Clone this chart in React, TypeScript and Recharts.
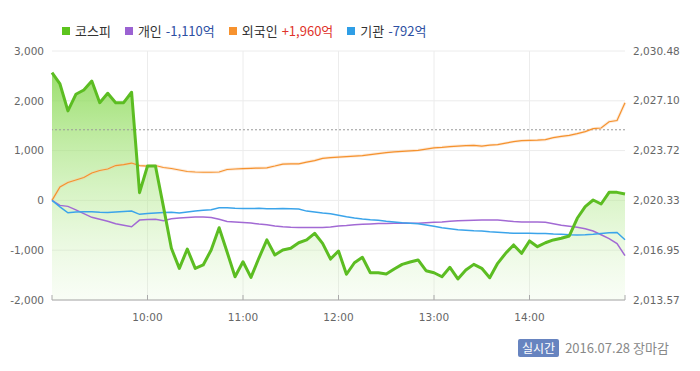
import React from 'react';
import {
    ComposedChart,
    Area,
    Line,
    XAxis,
    YAxis,
    CartesianGrid,
    ReferenceLine
} from 'recharts';

// minutes after 09:00, one point every 5 minutes
const minutes = [
    0, 5, 10, 15, 20, 25, 30, 35, 40, 45, 50, 55,
    60, 65, 70, 75, 80, 85, 90, 95, 100, 105, 110, 115,
    120, 125, 130, 135, 140, 145, 150, 155, 160, 165, 170, 175,
    180, 185, 190, 195, 200, 205, 210, 215, 220, 225, 230, 235,
    240, 245, 250, 255, 260, 265, 270, 275, 280, 285, 290, 295,
    300, 305, 310, 315, 320, 325, 330, 335, 340, 345, 350, 355,
    360
];

// KOSPI index (right axis)
const kospi = [
    2029.01, 2028.24, 2026.41, 2027.54, 2027.83, 2028.44, 2026.97, 2027.61, 2026.97, 2026.97, 2027.68, 2020.86,
    2022.67, 2022.67, 2019.91, 2017.08, 2015.72, 2017.03, 2015.72, 2015.95, 2016.97, 2018.48, 2016.83, 2015.15,
    2016.17, 2015.11, 2016.42, 2017.65, 2016.63, 2016.97, 2017.08, 2017.46, 2017.65, 2018.10, 2017.42, 2016.35,
    2016.90, 2015.32, 2016.10, 2016.47, 2015.42, 2015.42, 2015.34, 2015.68, 2015.99, 2016.15, 2016.29, 2015.56,
    2015.42, 2015.15, 2015.79, 2015.00, 2015.61, 2015.99, 2015.72, 2015.08, 2016.06, 2016.74, 2017.31, 2016.74,
    2017.58, 2017.19, 2017.46, 2017.65, 2017.76, 2017.92, 2019.12, 2019.91, 2020.36, 2020.09, 2020.88, 2020.88,
    2020.77
];

// net buying, 억원 (left axis)
const individual = [
    0, -100, -120, -190, -265, -340, -380, -420, -470, -500, -530, -395,
    -385, -380, -410, -370, -355, -345, -335, -335, -345, -380, -425, -435,
    -445, -455, -475, -490, -515, -530, -540, -546, -546, -546, -545, -535,
    -515, -505, -490, -480, -472, -466, -462, -458, -455, -460, -458, -450,
    -440, -432, -420, -410, -405, -398, -394, -394, -396, -410, -425, -434,
    -434, -434, -440, -470, -500, -520, -540, -570, -614, -690, -766, -866,
    -1110
];

const foreign = [
    0, 270, 360, 410, 460, 550, 600, 630, 700, 720, 750, 700,
    690, 700, 660, 640, 610, 580, 570, 565, 565, 570, 620, 630,
    640, 645, 650, 655, 690, 730, 734, 734, 770, 800, 845, 860,
    870, 880, 890, 900, 920, 940, 960, 975, 985, 995, 1005, 1030,
    1055, 1065, 1080, 1090, 1100, 1105, 1090, 1110, 1120, 1150, 1180, 1200,
    1205, 1210, 1220, 1260, 1285, 1305, 1340, 1380, 1440, 1454, 1580, 1605,
    1960
];

const institution = [
    0, -130, -250, -235, -230, -230, -240, -245, -235, -225, -215, -280,
    -265, -255, -245, -240, -255, -235, -215, -200, -186, -150, -150, -160,
    -165, -165, -160, -166, -170, -165, -166, -175, -215, -235, -255, -270,
    -300, -330, -355, -375, -390, -400, -420, -435, -450, -460, -470, -495,
    -520, -550, -570, -590, -600, -610, -615, -630, -640, -650, -660, -660,
    -660, -665, -665, -675, -680, -690, -695, -690, -680, -665, -650, -645,
    -790
];

const hourTicks = [0, 60, 120, 180, 240, 300, 360];
const hourLabels = ['', '10:00', '11:00', '12:00', '13:00', '14:00', ''];
const flowTicks = [-2000, -1000, 0, 1000, 2000, 3000];
const kospiTicks = [2013.57, 2016.95, 2020.33, 2023.72, 2027.10, 2030.48];
const prevClose = 2025.13;

const legendLabels = ['코스피', '개인', '외국인', '기관'];
const legendValues = ['', '-1,110억', '+1,960억', '-792억'];
const legendColors = ['#5cc41d', '#9b62d2', '#f7922e', '#2f9ee6'];
const legendValueColors = ['', '#2d4fa3', '#e0342b', '#2d4fa3'];

const data = minutes.map((m, i) => ({
    m,
    kospi: kospi[i],
    individual: individual[i],
    foreign: foreign[i],
    institution: institution[i]
}));

const tickFont = { fill: '#666', fontSize: 10.5, fontFamily: 'DejaVu Sans' };

const TimeTick = (props: any) => {
    const { x, y, payload } = props;
    const idx = hourTicks.indexOf(payload.value);
    return (
        <g>
            {/* small tick mark pointing up into the plot */}
            <line x1={x} x2={x} y1={y - 8} y2={y - 13} stroke="#aaa" />
            <text x={x} y={y} dy={13} textAnchor="middle" {...tickFont}>
                {hourLabels[idx]}
            </text>
        </g>
    );
};

const App = () => {
    return (
        <div style={{ position: 'absolute', left: 0, top: 0, width: 700, height: 371, background: '#fff' }}>
            <div
                style={{
                    position: 'absolute',
                    left: 62,
                    top: 21,
                    display: 'flex',
                    gap: 14,
                    fontFamily: '"Noto Sans CJK KR", sans-serif',
                    fontSize: 13,
                    color: '#333',
                    whiteSpace: 'nowrap'
                }}
            >
                {legendLabels.map((label, i) => (
                    <div key={label} style={{ display: 'flex', alignItems: 'center' }}>
                        <span style={{ width: 8, height: 8, background: legendColors[i], marginRight: 5 }} />
                        <span>{label}</span>
                        {legendValues[i] && (
                            <span style={{ color: legendValueColors[i], marginLeft: 4 }}>{legendValues[i]}</span>
                        )}
                    </div>
                ))}
            </div>

            <ComposedChart
                width={700}
                height={371}
                data={data}
                margin={{ top: 51, right: 0, bottom: 41, left: 0 }}
            >
                <defs>
                    <linearGradient id="kospiFill" x1="0" y1="0" x2="0" y2="1">
                        <stop offset="0%" stopColor="#8ad955" stopOpacity={0.85} />
                        <stop offset="60%" stopColor="#b6ea93" stopOpacity={0.45} />
                        <stop offset="100%" stopColor="#d6f3c2" stopOpacity={0.15} />
                    </linearGradient>
                </defs>
                <CartesianGrid
                    stroke="#ececec"
                    horizontalValues={flowTicks}
                    verticalValues={[60, 120, 180, 240, 300]}
                    yAxisId="left"
                />
                <XAxis
                    dataKey="m"
                    type="number"
                    domain={[0, 360]}
                    ticks={hourTicks}
                    height={30}
                    stroke="#aaa"
                    tickLine={false}
                    tick={<TimeTick />}
                    interval={0}
                />
                <YAxis
                    yAxisId="left"
                    orientation="left"
                    width={52}
                    domain={[-2000, 3000]}
                    ticks={flowTicks}
                    axisLine={false}
                    tickLine={false}
                    tick={tickFont}
                    tickFormatter={(v: number) => v.toLocaleString('en-US')}
                />
                <YAxis
                    yAxisId="right"
                    orientation="right"
                    width={75}
                    domain={[kospiTicks[0], kospiTicks[kospiTicks.length - 1]]}
                    ticks={kospiTicks}
                    axisLine={false}
                    tickLine={false}
                    tick={tickFont}
                    tickFormatter={(v: number) =>
                        v.toLocaleString('en-US', { minimumFractionDigits: 2, maximumFractionDigits: 2 })
                    }
                />
                <Area
                    yAxisId="right"
                    type="linear"
                    dataKey="kospi"
                    stroke="none"
                    fill="url(#kospiFill)"
                    fillOpacity={1}
                    baseValue={kospiTicks[0]}
                    isAnimationActive={false}
                />
                <ReferenceLine yAxisId="right" y={prevClose} stroke="#999" strokeDasharray="2 2" />
                <Line
                    yAxisId="left"
                    type="linear"
                    dataKey="foreign"
                    stroke="#f9c597"
                    strokeOpacity={0.35}
                    strokeWidth={3}
                    dot={false}
                    isAnimationActive={false}
                />
                <Line
                    yAxisId="left"
                    type="linear"
                    dataKey="foreign"
                    stroke="#f5922e"
                    strokeWidth={1.2}
                    dot={false}
                    isAnimationActive={false}
                />
                <Line
                    yAxisId="left"
                    type="linear"
                    dataKey="individual"
                    stroke="#a26ad4"
                    strokeWidth={1.5}
                    dot={false}
                    isAnimationActive={false}
                />
                <Line
                    yAxisId="left"
                    type="linear"
                    dataKey="institution"
                    stroke="#3ba4ea"
                    strokeWidth={1.5}
                    dot={false}
                    isAnimationActive={false}
                />
                <Line
                    yAxisId="right"
                    type="linear"
                    dataKey="kospi"
                    stroke="#5cbd22"
                    strokeWidth={3}
                    strokeLinejoin="round"
                    dot={false}
                    isAnimationActive={false}
                />
            </ComposedChart>

            <div
                style={{
                    position: 'absolute',
                    left: 518,
                    top: 338,
                    display: 'flex',
                    alignItems: 'center',
                    fontFamily: '"Noto Sans CJK KR", sans-serif',
                    whiteSpace: 'nowrap'
                }}
            >
                <span
                    style={{
                        background: '#6784c0',
                        color: '#fff',
                        fontSize: 12,
                        lineHeight: '18px',
                        padding: '0 4px',
                        borderRadius: 2
                    }}
                >
                    실시간
                </span>
                <span style={{ color: '#888', fontSize: 13, marginLeft: 6 }}>2016.07.28 장마감</span>
            </div>
        </div>
    );
};

export default App;
